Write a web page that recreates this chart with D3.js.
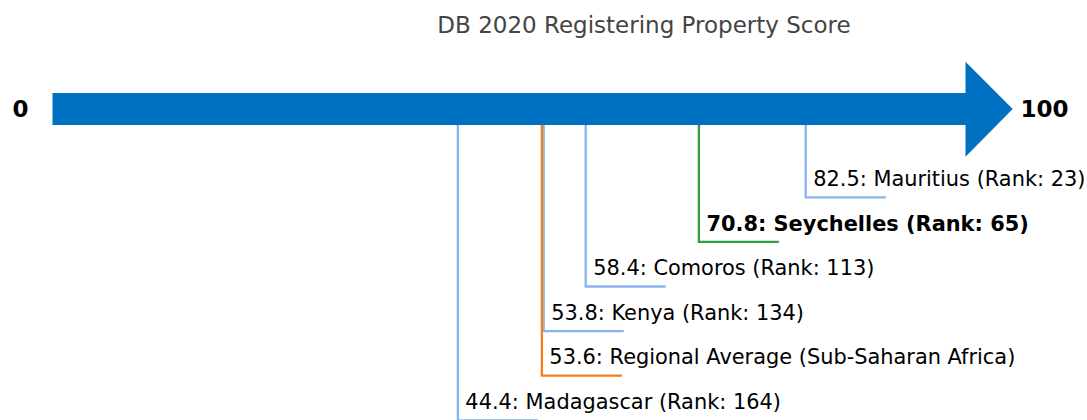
<!DOCTYPE html>
<html>
<head>
<meta charset="utf-8">
<script src="https://cdn.jsdelivr.net/npm/d3@7"></script>
<style>
  html, body { margin: 0; padding: 0; background: #fff; }
  svg { display: block; font-family: "DejaVu Sans", sans-serif; }
</style>
</head>
<body>
<svg id="chart" width="1087" height="420"></svg>
<script>
const title = "DB 2020 Registering Property Score";
const names = ["Mauritius", "Seychelles", "Comoros", "Kenya", "Regional Average (Sub-Saharan Africa)", "Madagascar"];
const scores = [82.5, 70.8, 58.4, 53.8, 53.6, 44.4];
const ranks = [23, 65, 113, 134, null, 164];
const kinds = ["peer", "focus", "peer", "peer", "regional", "peer"];
const domainMin = 0;
const domainMax = 100;

const colors = { peer: "#8ab4f0", focus: "#2ca043", regional: "#f77f14" };

const svg = d3.select("#chart");
const x = d3.scaleLinear().domain([domainMin, domainMax]).range([52.5, 965.5]);
const y = d3.scalePoint().domain(d3.range(names.length)).range([197.3, 420.3]);

const barTop = 93, barBottom = 125, headTop = 61.7, headBottom = 156.7, headLen = 47.2;
const midY = (barTop + barBottom) / 2;

// title
svg.append("text")
  .attr("x", 644).attr("y", 32.5)
  .attr("text-anchor", "middle")
  .attr("font-size", 23)
  .attr("fill", "#444")
  .text(title);

// arrow
const x0 = x(domainMin), x1 = x(domainMax);
svg.append("path")
  .attr("d", `M${x0},${barTop} H${x1} V${headTop} L${x1 + headLen},${midY} L${x1},${headBottom} V${barBottom} H${x0} Z`)
  .attr("fill", "#0070c0");

// end labels
svg.append("text")
  .attr("x", 20.5).attr("y", midY + 8.3)
  .attr("text-anchor", "middle")
  .attr("font-size", 23).attr("font-weight", "bold")
  .text(domainMin);
svg.append("text")
  .attr("x", 1020.5).attr("y", midY + 8.3)
  .attr("font-size", 23).attr("font-weight", "bold")
  .text(domainMax);

// markers
const items = names.map((n, i) => ({ n, s: scores[i], r: ranks[i], k: kinds[i], i }));
const g = svg.selectAll("g.item").data(items).join("g").attr("class", "item");

g.append("path")
  .attr("d", d => `M${x(d.s)},${barBottom} V${y(d.i)} H${x(d.s) + 80}`)
  .attr("fill", "none")
  .attr("stroke", d => colors[d.k])
  .attr("stroke-width", 2.3);

g.append("text")
  .attr("x", d => x(d.s) + 7.5)
  .attr("y", d => y(d.i) - 11.3)
  .attr("font-size", 20.9)
  .attr("font-weight", d => d.k === "focus" ? "bold" : "normal")
  .attr("fill", "#000")
  .text(d => d.r == null ? `${d.s.toFixed(1)}: ${d.n}` : `${d.s.toFixed(1)}: ${d.n} (Rank: ${d.r})`);
</script>
</body>
</html>
